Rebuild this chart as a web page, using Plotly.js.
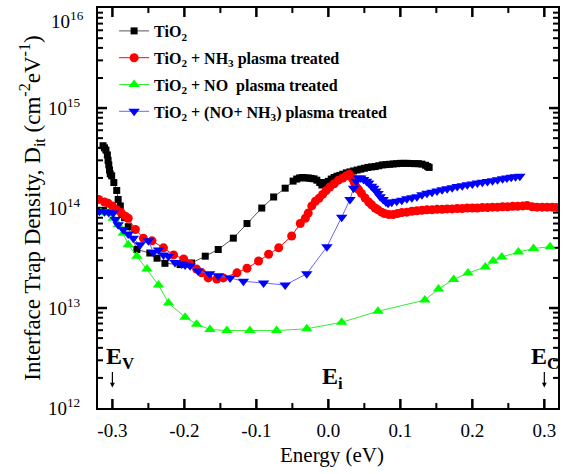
<!DOCTYPE html>
<html>
<head>
<meta charset="utf-8">
<script src="https://cdn.plot.ly/plotly-3.0.1.min.js"></script>
<style>html,body{margin:0;padding:0;background:#fff;}#chart{width:566px;height:474px;}</style>
</head>
<body>
<div id="chart"></div>
<script>
// ---- Data (Energy in eV, Dit in cm^-2 eV^-1) ----
const seriesNames = [
  "TiO<sub>2</sub>",
  "TiO<sub>2</sub> + NH<sub>3</sub> plasma treated",
  "TiO<sub>2</sub> + NO  plasma treated",
  "TiO<sub>2</sub> + (NO+ NH<sub>3</sub>) plasma treated"
];

const tio2X = [-0.313,-0.311,-0.309,-0.307,-0.306,-0.305,-0.304,-0.303,-0.301,-0.298,-0.294,-0.292,-0.289,-0.287,-0.283,-0.278,-0.266,-0.248,-0.238,-0.227,-0.206,-0.190,-0.171,-0.153,-0.132,-0.113,-0.0925,-0.076,-0.060,-0.049,-0.044,-0.040,-0.036,-0.032,-0.028,-0.024,-0.020,-0.016,-0.012,-0.009,-0.006,-0.003,0.000,0.004,0.008,0.012,0.016,0.020,0.025,0.030,0.035,0.040,0.045,0.050,0.055,0.060,0.065,0.070,0.075,0.080,0.085,0.090,0.095,0.100,0.105,0.110,0.115,0.120,0.125,0.130,0.135,0.138,0.140];
const tio2Y = [4.2e14,4.0e14,3.8e14,3.4e14,3.0e14,2.7e14,2.4e14,2.2e14,2.1e14,1.8e14,1.5e14,1.22e14,1.05e14,8.6e13,8.0e13,6.5e13,3.85e13,3.55e13,3.15e13,2.8e13,2.72e13,2.82e13,3.3e13,3.85e13,5.0e13,7.0e13,1.0e14,1.29e14,1.58e14,1.86e14,1.95e14,2.0e14,2.02e14,2.0e14,2.0e14,1.98e14,1.96e14,1.9e14,1.8e14,1.7e14,1.74e14,1.8e14,1.85e14,1.95e14,2.02e14,2.08e14,2.12e14,2.18e14,2.25e14,2.3e14,2.35e14,2.4e14,2.45e14,2.5e14,2.55e14,2.58e14,2.6e14,2.65e14,2.7e14,2.72e14,2.74e14,2.76e14,2.78e14,2.8e14,2.8e14,2.8e14,2.79e14,2.78e14,2.78e14,2.75e14,2.68e14,2.6e14,2.55e14];

const nh3X = [-0.319,-0.311,-0.306,-0.300,-0.294,-0.288,-0.282,-0.278,-0.268,-0.257,-0.245,-0.229,-0.215,-0.201,-0.192,-0.183,-0.176,-0.167,-0.155,-0.146,-0.127,-0.113,-0.097,-0.083,-0.069,-0.051,-0.039,-0.032,-0.028,-0.023,-0.018,-0.013,-0.008,-0.003,0.002,0.008,0.014,0.020,0.025,0.029,0.033,0.036,0.039,0.042,0.046,0.051,0.056,0.060,0.065,0.069,0.074,0.078,0.084,0.090,0.096,0.102,0.109,0.116,0.123,0.130,0.137,0.144,0.151,0.158,0.165,0.172,0.179,0.186,0.193,0.200,0.207,0.214,0.221,0.228,0.235,0.242,0.249,0.256,0.263,0.270,0.276,0.283,0.290,0.297,0.304,0.311,0.317];
const nh3Y = [1.22e14,1.15e14,1.12e14,1.05e14,9.6e13,9.0e13,8.3e13,7.9e13,6.1e13,5.0e13,4.7e13,4.0e13,3.4e13,3.1e13,2.75e13,2.45e13,2.25e13,2.0e13,1.95e13,2.0e13,2.25e13,2.5e13,2.95e13,3.45e13,4.0e13,5.25e13,7.0e13,7.9e13,8.9e13,1.05e14,1.17e14,1.25e14,1.37e14,1.5e14,1.62e14,1.75e14,1.9e14,2.0e14,2.1e14,2.18e14,2.0e14,1.8e14,1.62e14,1.53e14,1.4e14,1.26e14,1.15e14,1.08e14,1.0e14,9.6e13,9.1e13,8.8e13,8.6e13,8.6e13,8.8e13,9.0e13,9.1e13,9.3e13,9.4e13,9.5e13,9.6e13,9.6e13,9.7e13,9.7e13,9.8e13,9.8e13,9.9e13,9.9e13,1.0e14,1.0e14,1.0e14,1.01e14,1.01e14,1.02e14,1.02e14,1.03e14,1.03e14,1.04e14,1.04e14,1.05e14,1.06e14,1.03e14,1.02e14,1.02e14,1.02e14,1.02e14,1.01e14];

const noX = [-0.316,-0.306,-0.299,-0.292,-0.285,-0.278,-0.266,-0.252,-0.236,-0.222,-0.199,-0.183,-0.1645,-0.141,-0.109,-0.072,-0.030,0.0185,0.069,0.134,0.153,0.174,0.194,0.218,0.229,0.241,0.264,0.285,0.308];
const noY = [9.0e13,8.9e13,7.9e13,6.8e13,5.6e13,4.3e13,3.3e13,2.45e13,1.7e13,1.12e13,8.1e12,6.9e12,6.1e12,5.95e12,5.95e12,5.95e12,6.2e12,7.2e12,9.3e12,1.2e13,1.55e13,1.93e13,2.24e13,2.57e13,2.95e13,3.24e13,3.63e13,3.94e13,4.1e13];

const noNh3X = [-0.318,-0.311,-0.305,-0.299,-0.296,-0.292,-0.285,-0.278,-0.271,-0.2615,-0.250,-0.243,-0.236,-0.229,-0.222,-0.213,-0.204,-0.199,-0.192,-0.181,-0.165,-0.153,-0.1365,-0.118,-0.090,-0.060,-0.030,-0.002,0.0185,0.030,0.035,0.039,0.042,0.045,0.049,0.053,0.056,0.060,0.063,0.066,0.069,0.072,0.076,0.080,0.083,0.088,0.095,0.102,0.109,0.116,0.123,0.130,0.137,0.144,0.151,0.158,0.165,0.172,0.179,0.186,0.193,0.200,0.207,0.214,0.221,0.228,0.235,0.242,0.248,0.254,0.260,0.266];
const noNh3Y = [9.3e13,9.2e13,9.0e13,8.9e13,7.7e13,6.8e13,6.1e13,5.5e13,5.0e13,4.3e13,4.7e13,3.6e13,3.8e13,3.4e13,3.3e13,2.85e13,2.75e13,2.7e13,2.65e13,2.35e13,2.2e13,2.1e13,2.0e13,1.85e13,1.78e13,1.7e13,2.2e13,4.1e13,8.1e13,1.22e14,1.58e14,1.85e14,2.0e14,2.0e14,1.93e14,1.85e14,1.78e14,1.65e14,1.58e14,1.48e14,1.4e14,1.3e14,1.22e14,1.15e14,1.12e14,1.14e14,1.17e14,1.2e14,1.24e14,1.27e14,1.3e14,1.36e14,1.41e14,1.44e14,1.48e14,1.52e14,1.56e14,1.6e14,1.64e14,1.67e14,1.71e14,1.74e14,1.78e14,1.81e14,1.84e14,1.87e14,1.92e14,1.96e14,2.0e14,2.03e14,2.06e14,2.08e14];

// tick labels
const xTickVals = [-0.3,-0.2,-0.1,0.0,0.1,0.2,0.3];
const xTickText = ["-0.3","-0.2","-0.1","0.0","0.1","0.2","0.3"];
const yTickVals = [1e12,1e13,1e14,1e15,1e16];
const yTickText = ["10<sup>12</sup>","10<sup>13</sup>","10<sup>14</sup>","10<sup>15</sup>",""];
const yTopLabel = "10<sup>16</sup>";
const xTitle = "Energy (eV)";
const yTitle = "Interface Trap Density, D<sub>it</sub> (cm<sup>-2</sup>eV<sup>-1</sup>)";

// ---- Plot ----
const serif = '"Liberation Serif", "Times New Roman", Times, serif';
const xRange = [-0.32, 0.319];
const yRange = [12, 16.001];
const plotW = 460, plotH = 400;
const majorLen = 9, minorLen = 5;

// inside tick marks on all four sides, built from the tick arrays and axis ranges
const xPerPx = (xRange[1] - xRange[0]) / plotW;
const decPerPx = (yRange[1] - yRange[0]) / plotH;
const majT = {xs: [], ys: [], len: majorLen}, minT = {xs: [], ys: [], len: minorLen};
function addXTick(t, v) {
  const d = t.len * decPerPx;
  t.xs.push(v, v, null, v, v, null);
  t.ys.push(Math.pow(10, yRange[0]), Math.pow(10, yRange[0] + d), null,
            Math.pow(10, yRange[1]), Math.pow(10, yRange[1] - d), null);
}
function addYTick(t, lv) {
  const d = t.len * xPerPx;
  const y = Math.pow(10, lv);
  t.xs.push(xRange[0], xRange[0] + d, null, xRange[1], xRange[1] - d, null);
  t.ys.push(y, y, null, y, y, null);
}
xTickVals.forEach(v => addXTick(majT, v));
for (let i = 0; i < xTickVals.length - 1; i++) addXTick(minT, (xTickVals[i] + xTickVals[i + 1]) / 2);
yTickVals.forEach(v => { const lv = Math.log10(v); if (lv > yRange[0] && lv < 16) addYTick(majT, lv); });
for (let e = 12; e < 16; e++) for (let m = 2; m <= 9; m++) addYTick(minT, e + Math.log10(m));

const traces = [
  {x: majT.xs, y: majT.ys, mode: "lines", line: {color: "#000", width: 2.5}, showlegend: false, hoverinfo: "skip", connectgaps: false, cliponaxis: false},
  {x: minT.xs, y: minT.ys, mode: "lines", line: {color: "#000", width: 2}, showlegend: false, hoverinfo: "skip", connectgaps: false, cliponaxis: false},
  {x: tio2X, y: tio2Y, name: seriesNames[0], legendgroup: "a", mode: "lines+markers",
   line: {color: "#555555", width: 1}, marker: {symbol: "square", size: 7, color: "#000000"}},
  {x: nh3X, y: nh3Y, name: seriesNames[1], legendgroup: "b", mode: "lines+markers",
   line: {color: "#ff0000", width: 1}, marker: {symbol: "circle", size: 9, color: "#ff0000"}},
  {x: noX, y: noY, name: seriesNames[2], legendgroup: "c", mode: "lines+markers",
   line: {color: "#33ee33", width: 1}, marker: {symbol: "triangle-up", size: 10, color: "#00ff00"}},
  {x: noNh3X, y: noNh3Y, name: seriesNames[3], legendgroup: "d", mode: "lines+markers",
   line: {color: "#6666ff", width: 1}, marker: {symbol: "triangle-down", size: 10, color: "#0000ff"}}
];

const layout = {
  width: 566, height: 474,
  margin: {l: 98, r: 8, t: 8, b: 66},
  paper_bgcolor: "#ffffff", plot_bgcolor: "#ffffff",
  font: {family: serif, color: "#000"},
  showlegend: true,
  legend: {x: 0.035, y: 0.985, xanchor: "left", yanchor: "top", bgcolor: "rgba(0,0,0,0)",
           font: {family: serif, size: 16, color: "#000", weight: "bold"}, tracegroupgap: 3},
  xaxis: {
    range: xRange, showgrid: false, zeroline: false,
    showline: true, linecolor: "#000", linewidth: 2, mirror: true,
    ticks: "", tickmode: "array", tickvals: xTickVals, ticktext: xTickText,
    ticklabelstandoff: 4,
    tickfont: {family: serif, size: 19}
  },
  yaxis: {
    type: "log", range: yRange, showgrid: false, zeroline: false,
    showline: true, linecolor: "#000", linewidth: 2, mirror: true,
    ticks: "", tickmode: "array", tickvals: yTickVals, ticktext: yTickText,
    ticklabelstandoff: 12,
    tickfont: {family: serif, size: 19},
    title: {text: yTitle, font: {family: serif, size: 23}, standoff: 0}
  },
  annotations: [
    {x: 0.509, y: -0.117, xref: "paper", yref: "paper", xanchor: "center", yanchor: "middle",
     text: xTitle, showarrow: false, font: {family: serif, size: 21}},
    {x: 0, y: 16, xref: "paper", yref: "y", xanchor: "right", yanchor: "top", xshift: -12, yshift: 2,
     text: yTopLabel, showarrow: false, font: {family: serif, size: 19}},
    {x: -0.3, y: Math.log10(1.6e12), xref: "x", yref: "y", text: "", showarrow: true,
     ax: 0, ay: -17, arrowhead: 2, arrowsize: 0.8, arrowwidth: 1.2, arrowcolor: "#000"},
    {x: 0.3, y: Math.log10(1.6e12), xref: "x", yref: "y", text: "", showarrow: true,
     ax: 0, ay: -17, arrowhead: 2, arrowsize: 0.8, arrowwidth: 1.2, arrowcolor: "#000"},
    {x: -0.312, y: 12.5, xref: "x", yref: "y", xanchor: "left", yanchor: "middle",
     text: "E<sub>V</sub>", showarrow: false, font: {family: serif, size: 24, weight: "bold"}},
    {x: -0.011, y: 12.3, xref: "x", yref: "y", xanchor: "left", yanchor: "middle",
     text: "E<sub>i</sub>", showarrow: false, font: {family: serif, size: 24, weight: "bold"}},
    {x: 0.279, y: 12.5, xref: "x", yref: "y", xanchor: "left", yanchor: "middle",
     text: "E<sub>C</sub>", showarrow: false, font: {family: serif, size: 24, weight: "bold"}}
  ]
};

Plotly.newPlot("chart", traces, layout, {displayModeBar: false, staticPlot: true});
</script>
</body>
</html>
